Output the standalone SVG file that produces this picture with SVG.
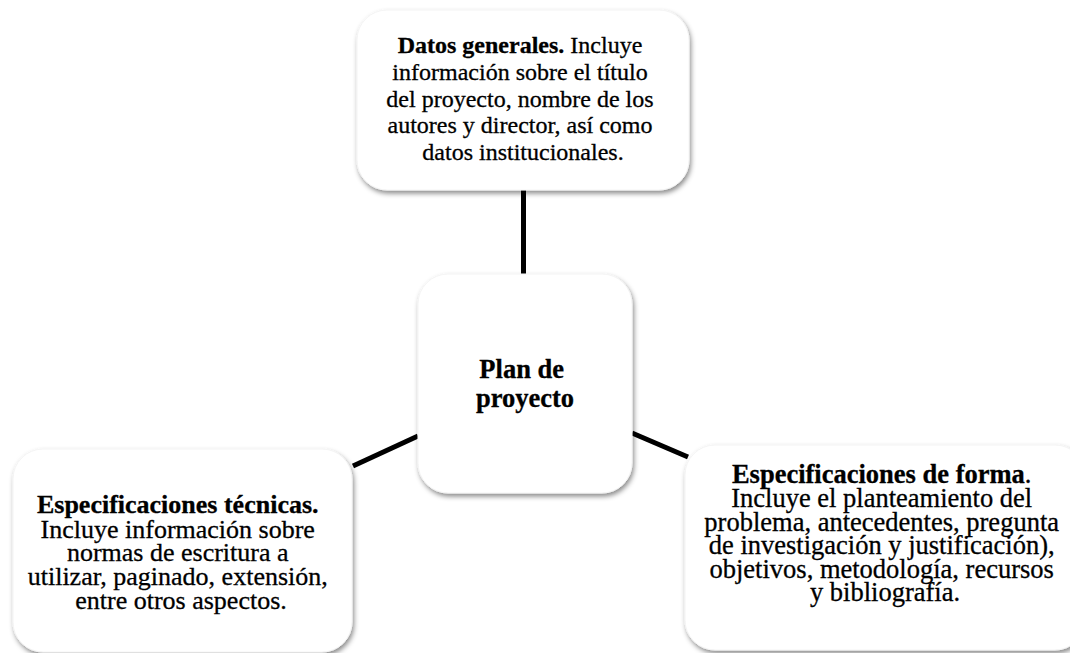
<svg xmlns="http://www.w3.org/2000/svg" width="1070" height="653" viewBox="0 0 1070 653">
<defs>
<filter id="sh" x="-10%" y="-10%" width="125%" height="130%">
<feDropShadow dx="1.5" dy="3" stdDeviation="2.5" flood-color="#000" flood-opacity="0.45"/>
</filter>
</defs>
<style>
.box{fill:#fff;stroke:#f4f4f4;stroke-width:1;filter:url(#sh)}
.t{font-family:'Liberation Serif','Times New Roman',serif;fill:#000;stroke:#000;stroke-width:0.3;text-anchor:middle}
.b{font-weight:bold}
.con{stroke:#000;stroke-width:5;fill:none}
</style>
<rect width="1070" height="653" fill="#fff"/>
<g id="connectors">
<line class="con" x1="523.5" y1="190" x2="523.5" y2="274"/>
<line class="con" x1="353" y1="466" x2="418" y2="436"/>
<line class="con" x1="632" y1="433" x2="688" y2="457"/>
</g>
<g id="node-datos">
<rect class="box" x="357" y="10" width="332" height="180" rx="30"/>
<text class="t" font-size="24">
<tspan x="523" y="53"><tspan class="b">Datos generales.</tspan> Incluye</tspan>
<tspan x="523" y="80">información sobre el título</tspan>
<tspan x="523" y="107">del proyecto, nombre de los</tspan>
<tspan x="523" y="133">autores y director, así como</tspan>
<tspan x="523" y="160">datos institucionales.</tspan>
</text>
</g>
<g id="node-plan">
<rect class="box" x="418" y="274" width="214" height="219" rx="30"/>
<text class="t b" font-size="26.5">
<tspan x="525" y="378">Plan de</tspan>
<tspan x="525" y="407">proyecto</tspan>
</text>
</g>
<g id="node-tecnicas">
<rect class="box" x="13" y="449" width="339" height="203" rx="30"/>
<text class="t" font-size="26">
<tspan x="181" y="513" class="b">Especificaciones técnicas.</tspan>
<tspan x="181" y="538">Incluye información sobre</tspan>
<tspan x="181" y="561">normas de escritura a</tspan>
<tspan x="181" y="585">utilizar, paginado, extensión,</tspan>
<tspan x="181" y="609">entre otros aspectos.</tspan>
</text>
</g>
<g id="node-forma">
<rect class="box" x="685" y="445" width="400" height="205" rx="30"/>
<text class="t" font-size="26.5">
<tspan x="885" y="483"><tspan class="b">Especificaciones de forma</tspan>.</tspan>
<tspan x="885" y="507">Incluye el planteamiento del</tspan>
<tspan x="885" y="531">problema, antecedentes, pregunta</tspan>
<tspan x="885" y="554">de investigación y justificación),</tspan>
<tspan x="885" y="578">objetivos, metodología, recursos</tspan>
<tspan x="885" y="601">y bibliografía.</tspan>
</text>
</g>
</svg>
